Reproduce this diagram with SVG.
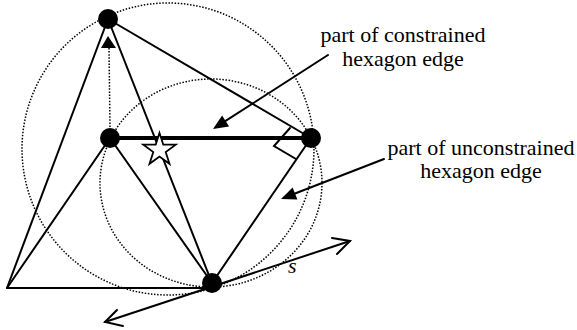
<svg xmlns="http://www.w3.org/2000/svg" width="577" height="330" viewBox="0 0 577 330">
<style>
.dot{fill:none;stroke:#000;stroke-width:1.5;stroke-dasharray:1.5 1.6}
.ln{fill:none;stroke:#000;stroke-width:2;stroke-linecap:round}
.thick{fill:none;stroke:#000;stroke-width:4}
.node{fill:#000}
.lbl{font-family:"Liberation Serif","Times New Roman",serif;font-size:22px;fill:#000}
</style>
<rect width="577" height="330" fill="#fff"/>
<g id="circles">
<circle class="dot" cx="168" cy="149" r="146"/>
<ellipse class="dot" cx="211" cy="183" rx="111" ry="104"/>
</g>
<g id="connectors">
<line class="ln" x1="7" y1="288" x2="108" y2="19"/>
<line class="ln" x1="7" y1="288" x2="110" y2="138"/>
<line class="ln" x1="7" y1="288" x2="212" y2="288"/>
<line class="ln" x1="108" y1="19" x2="311" y2="138"/>
<line class="ln" x1="108" y1="19" x2="212" y2="283"/>
<line class="ln" x1="110" y1="138" x2="212" y2="283"/>
<line class="ln" x1="311" y1="138" x2="212" y2="283"/>
<line class="thick" x1="110" y1="138" x2="311" y2="138"/>
<line class="dot" x1="109" y1="48" x2="110" y2="128"/>
<polygon points="108,36 101,48 116,48" fill="#000"/>
<polyline class="ln" points="290,128 274,146 296,159"/>
<line class="ln" x1="105" y1="322" x2="350" y2="241"/>
<polyline class="ln" points="117,310 105,322 123,326"/>
<polyline class="ln" points="332,238 350,241 337,254"/>
<line class="ln" x1="328" y1="55" x2="225.6" y2="120.9"/>
<polygon points="213,129 229.1,126.4 222.1,115.4" fill="#000"/>
<line class="ln" x1="384" y1="159" x2="295" y2="193.5"/>
<polygon points="281,199 297.4,199.5 292.6,187.4" fill="#000"/>
</g>
<g id="star">
<polygon points="159.5,133 163.3,144.7 175.7,144.7 165.7,152 169.5,163.8 159.5,156.5 149.5,163.8 153.3,152 143.3,144.7 155.7,144.7" fill="#fff" stroke="#000" stroke-width="1.8" stroke-linejoin="miter"/>
</g>
<g id="nodeA"><circle class="node" cx="108" cy="19" r="10"/></g>
<g id="nodeB"><circle class="node" cx="110" cy="138" r="10"/></g>
<g id="nodeC"><circle class="node" cx="311" cy="138" r="10"/></g>
<g id="nodeD"><circle class="node" cx="212" cy="283" r="10"/></g>
<g id="labels">
<text class="lbl" x="403" y="42" text-anchor="middle">part of constrained</text>
<text class="lbl" x="403" y="65.5" text-anchor="middle">hexagon edge</text>
<text class="lbl" x="481" y="155" text-anchor="middle">part of unconstrained</text>
<text class="lbl" x="481" y="178" text-anchor="middle">hexagon edge</text>
<text class="lbl" x="288" y="272.5" font-style="italic">s</text>
</g>
</svg>
